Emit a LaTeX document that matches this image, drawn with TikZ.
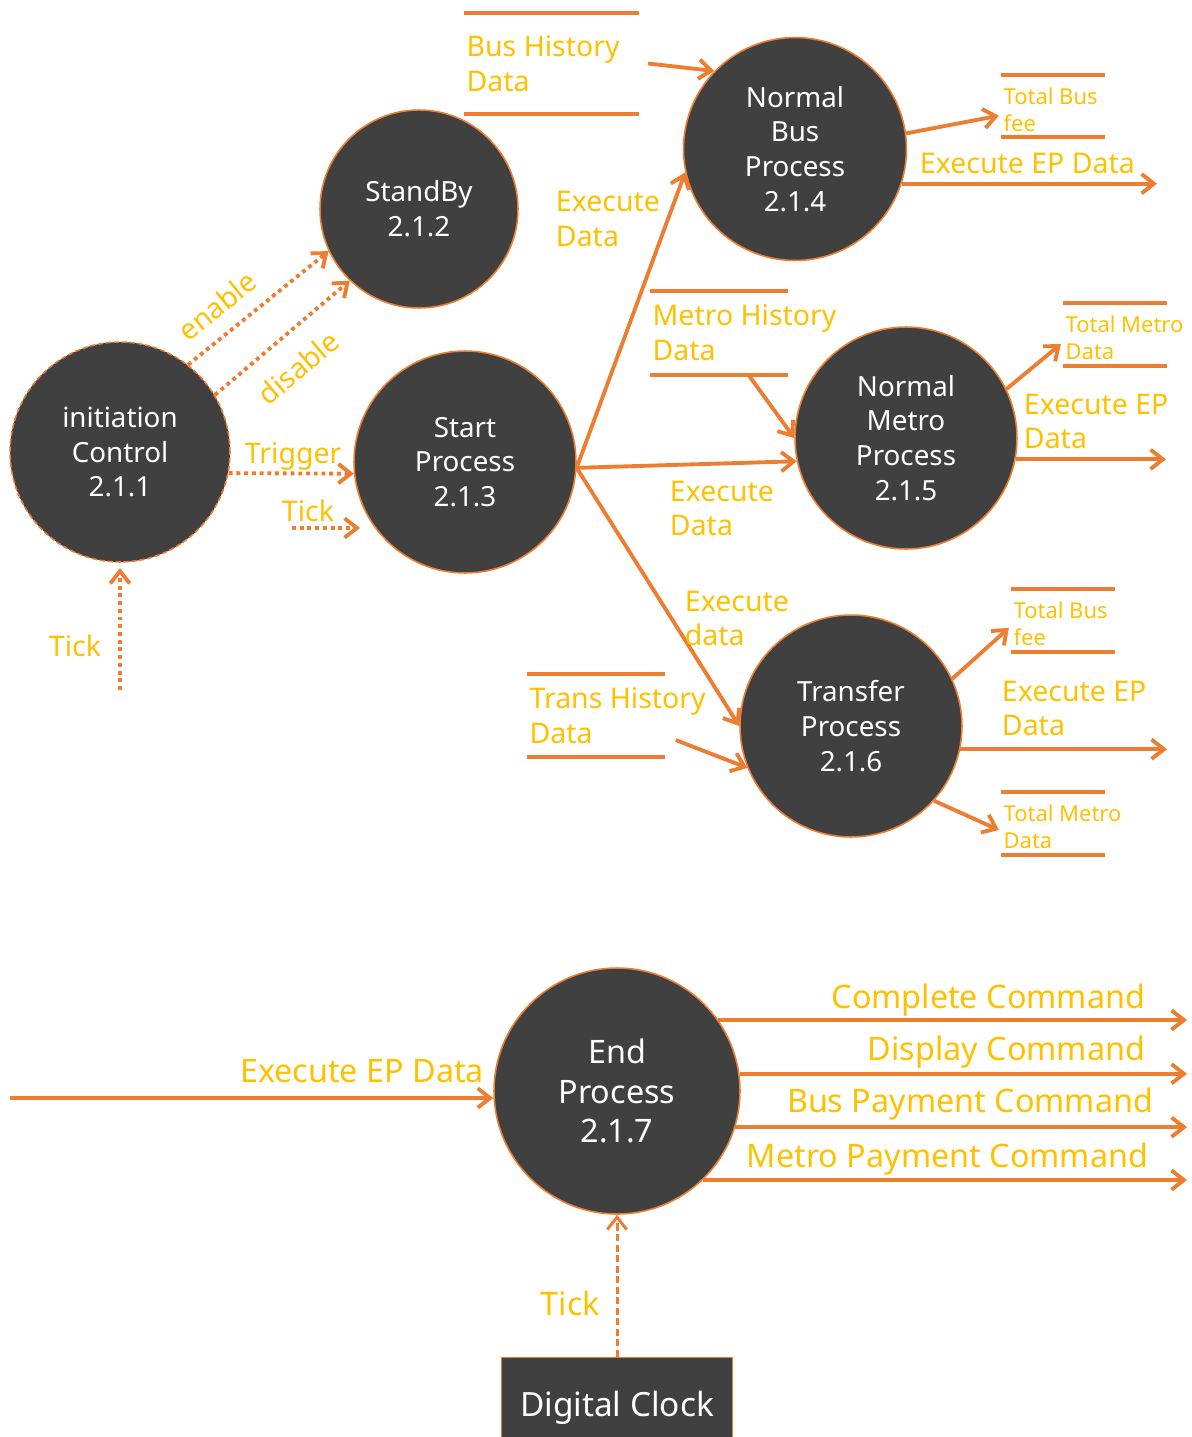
\documentclass[tikz,border=0pt]{standalone}
\usepackage{fontspec}
\setmainfont{Noto Sans}
\usepackage{tikz}
\usetikzlibrary{arrows.meta}
\tikzset{>={Straight Barb[length=7pt,width=11pt]}}

\definecolor{flow}{HTML}{ED7D31}
\definecolor{labtext}{HTML}{FFC000}
\definecolor{procgray}{HTML}{404040}

\newcommand\fproc{\fontsize{15.8pt}{19.8pt}\selectfont}
\newcommand\flab{\fontsize{16.2pt}{19.8pt}\selectfont}
\newcommand\fsmall{\fontsize{12.5pt}{15.3pt}\selectfont}
\newcommand\fbig{\fontsize{18.4pt}{22.7pt}\selectfont}

\tikzset{
  proc/.style={circle, fill=procgray, draw=flow, line width=0.9pt, text=white,
    align=center, inner sep=0pt, font=\fproc},
  store/.style={rectangle, inner sep=0pt},
  storeline/.style={draw=flow, line width=2.2pt},
  lab/.style={text=labtext, font=\flab, inner sep=1.5pt, align=left},
  flowline/.style={draw=flow, line width=2.2pt, ->},
  flowdot/.style={flowline, dash pattern=on 2.2pt off 2.2pt},
}

\begin{document}
\begin{tikzpicture}[x=0.02cm, y=-0.02cm]

  \useasboundingbox (0,0) rectangle (1192,1437);

  % processes
  \node[proc, minimum size=4.4cm, dash pattern=on 3pt off 1.5pt] (init) at (120,452) {initiation\\Control\\2.1.1};
  \node[proc, minimum size=3.96cm] (standby) at (419,209) {StandBy\\2.1.2};
  \node[proc, minimum size=4.44cm] (start) at (465,462) {Start\\Process\\2.1.3};
  \node[proc, minimum size=4.46cm] (busproc) at (795,149) {Normal\\Bus\\Process\\2.1.4};
  \node[proc, minimum size=4.44cm] (metroproc) at (906,438) {Normal\\Metro\\Process\\2.1.5};
  \node[proc, minimum size=4.44cm] (transproc) at (851,726) {Transfer\\Process\\2.1.6};
  \node[proc, minimum size=4.92cm, font=\fbig] (endproc) at (617,1091) {End\\Process\\2.1.7};
  \node[rectangle, fill=procgray, draw=flow, line width=0.6pt, text=white, font=\fontsize{19pt}{23pt}\selectfont,
    minimum width=4.62cm, minimum height=2cm, anchor=north] (clock) at (617,1357) {Digital Clock};

  % data stores
  \node[store, minimum width=3.5cm, minimum height=2.02cm,
    label={[lab, anchor=west]west:{Bus History\\Data}}] (bushist) at (551.5,63.5) {};
  \node[store, minimum width=2.08cm, minimum height=1.24cm,
    label={[lab, font=\fsmall, anchor=west, yshift=-2pt]west:{Total Bus\\fee}}] (busfee1) at (1053,106) {};
  \node[store, minimum width=2.76cm, minimum height=1.68cm,
    label={[lab, anchor=west]west:{Metro History\\Data}}] (metrohist) at (719,333) {};
  \node[store, minimum width=2.08cm, minimum height=1.26cm,
    label={[lab, font=\fsmall, anchor=west, yshift=-2pt]west:{Total Metro\\Data}}] (metrofee1) at (1115,334.5) {};
  \node[store, minimum width=2.76cm, minimum height=1.66cm,
    label={[lab, anchor=west]west:{Trans History\\Data}}] (transhist) at (596,715.5) {};
  \node[store, minimum width=2.08cm, minimum height=1.26cm,
    label={[lab, font=\fsmall, anchor=west, yshift=-2pt]west:{Total Bus\\fee}}] (busfee2) at (1063,620.5) {};
  \node[store, minimum width=2.08cm, minimum height=1.26cm,
    label={[lab, font=\fsmall, anchor=west, yshift=-2pt]west:{Total Metro\\Data}}] (metrofee2) at (1053,823.5) {};
  \foreach \s in {bushist,busfee1,metrohist,metrofee1,transhist,busfee2,metrofee2}
    \draw[storeline] (\s.north west) -- (\s.north east) (\s.south west) -- (\s.south east);

  %% init -> standby
  \draw[flowdot] (init.52) -- node[lab, sloped, above=7pt, pos=0.33] (lenable) {enable} (standby.205);
  \draw[flowdot] (init.31) -- node[lab, sloped, below=10pt, pos=0.46] (ldisable) {disable} (standby.226);

  %% init -> start
  \draw[flowdot] (init.-11) -- (start.186);
  \node[lab, anchor=base west] (ltrigger) at (242,463) {Trigger};
  \coordinate (tickmidA) at (292,528);
  \coordinate (tickmidB) at (360,528);
  \draw[flowdot] (tickmidA) -- (tickmidB);
  \node[lab, anchor=base west] (ltickmid) at (279,521) {Tick};
  \coordinate (tickin) at (120,690);
  \draw[flowdot, shorten >=3pt] (tickin) -- (init.south);
  \node[lab, anchor=base east] (ltickin) at (104,656) {Tick};

  %% start -> bus, metro, transfer
  \draw[flowline] (start.-3) -- (busproc.192);
  \node[lab, anchor=west] (lbusin) at (553,219) {Execute\\Data};
  \draw[flowline] (start.-3) -- (metroproc.192);
  \node[lab, anchor=west] (lmetroin) at (667,508.5) {Execute\\Data};
  \draw[flowline] (start.-3) -- (transproc.180);
  \node[lab, anchor=west] (ltransin) at (682,618.5) {Execute\\data};

  %% bus process
  \draw[flowline] ([xshift=5pt]bushist.east) -- (busproc.136);
  \draw[flowline] (busproc.8) -- ([shift={(-1pt,-5.5pt)}]busfee1.west);
  \coordinate (busout) at (1157,185);
  \draw[flowline] (busproc.-18) -- (busproc.-18 -| busout);
  \node[lab, anchor=base west] (lbusep) at (917,173) {Execute EP Data};

  %% metro process
  \draw[flowline] ([xshift=17pt]metrohist.south) -- (metroproc.180);
  \draw[flowline] (metroproc.26) -- ([shift={(-1pt,-5.4pt)}]metrofee1.west);
  \coordinate (metroout) at (1166,460);
  \draw[flowline] (metroproc.-11) -- (metroproc.-11 -| metroout);
  \node[lab, anchor=west] (lmetroep) at (1021,421.5) {Execute EP\\Data};

  %% transfer process
  \draw[flowline] ([shift={(6pt,-14pt)}]transhist.east) -- (transproc.202);
  \draw[flowline] (transproc.25) -- ([shift={(-1pt,-4.2pt)}]busfee2.west);
  \draw[flowline] (transproc.-42) -- ([shift={(-1pt,-3.7pt)}]metrofee2.west);
  \coordinate (transout) at (1167,749);
  \draw[flowline] (transproc.-12) -- (transproc.-12 -| transout);
  \node[lab, anchor=west] (ltransep) at (999,708.5) {Execute EP\\Data};

  %% end process
  \coordinate (epin) at (10,1098);
  \draw[flowline] (epin) -- (epin -| endproc.west);
  \node[lab, font=\fbig, anchor=base east] (lendin) at (487,1082) {Execute EP Data};
  \coordinate (endout) at (1187,0);
  \draw[flowline] (endproc.35) -- (endproc.35 -| endout);
  \node[lab, font=\fbig, anchor=base east] (lcomplete) at (1148,1008) {Complete Command};
  \draw[flowline] (endproc.8) -- (endproc.8 -| endout);
  \node[lab, font=\fbig, anchor=base east] (ldisplay) at (1148,1060) {Display Command};
  \draw[flowline] (endproc.-17) -- (endproc.-17 -| endout);
  \node[lab, font=\fbig, anchor=base east] (lbuspay) at (1156,1112) {Bus Payment Command};
  \draw[flowline] (endproc.-46) -- (endproc.-46 -| endout);
  \node[lab, font=\fbig, anchor=base east] (lmetropay) at (1151,1167) {Metro Payment Command};

  %% clock -> end
  \draw[flowline, line width=1.7pt, dash pattern=on 4pt off 2pt] (clock.north) -- (endproc.south);
  \node[lab, font=\fbig, anchor=base east] (ltickend) at (603,1315) {Tick};

\end{tikzpicture}
\end{document}
